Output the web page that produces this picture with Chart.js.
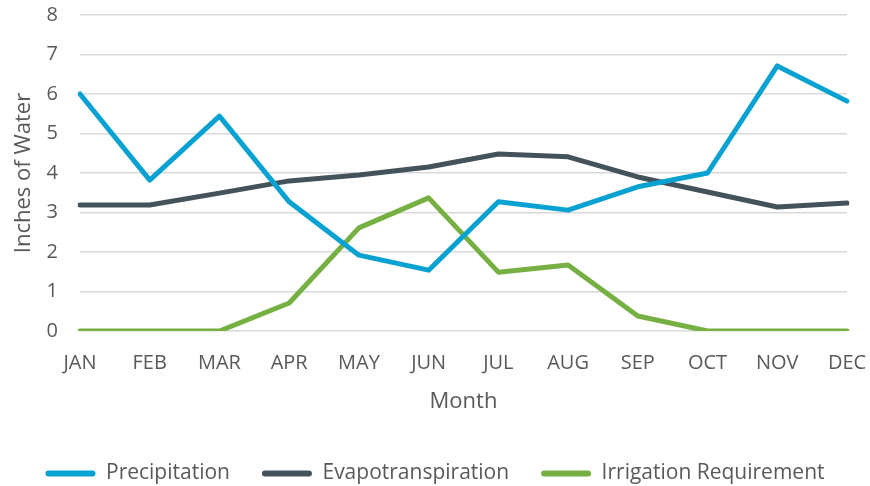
<!DOCTYPE html>
<html>
<head>
<meta charset="utf-8">
<script src="https://cdn.jsdelivr.net/npm/chart.js@4"></script>
<style>
  html, body { margin: 0; padding: 0; background: #fff; }
  #wrap { width: 870px; height: 486px; }
</style>
</head>
<body>
<div id="wrap"><canvas id="waterChart"></canvas></div>
<script>
const months = ['JAN', 'FEB', 'MAR', 'APR', 'MAY', 'JUN', 'JUL', 'AUG', 'SEP', 'OCT', 'NOV', 'DEC'];
const precipitation = [6.0, 3.82, 5.44, 3.27, 1.92, 1.54, 3.27, 3.06, 3.65, 4.0, 6.71, 5.82];
const evapotranspiration = [3.19, 3.19, 3.49, 3.80, 3.95, 4.15, 4.48, 4.41, 3.90, 3.52, 3.14, 3.24];
const irrigation = [0, 0, 0, 0.71, 2.61, 3.37, 1.49, 1.67, 0.38, 0, 0, 0];
const yTicks = [0, 1, 2, 3, 4, 5, 6, 7, 8];

const textColor = '#595959';
const font = 'Open Sans';

function series(label, data, color) {
  return {
    label: label,
    data: data,
    borderColor: color,
    backgroundColor: color,
    borderWidth: 5,
    pointRadius: 0,
    tension: 0,
    borderJoinStyle: 'round',
    borderCapStyle: 'round'
  };
}

const ctx = document.getElementById('waterChart').getContext('2d');
new Chart(ctx, {
  type: 'line',
  data: {
    labels: months,
    datasets: [
      series('Precipitation', precipitation, '#08a2d2'),
      series('Evapotranspiration', evapotranspiration, '#44525c'),
      series('Irrigation Requirement', irrigation, '#76b042')
    ]
  },
  options: {
    responsive: true,
    maintainAspectRatio: false,
    animation: false,
    layout: { padding: { top: 15, right: 0, bottom: -8, left: 0 } },
    plugins: {
      legend: {
        position: 'bottom',
        labels: {
          color: textColor,
          font: { family: font, size: 21 },
          boxWidth: 50,
          boxHeight: 6,
          useBorderRadius: true,
          borderRadius: 3,
          padding: 32,
          generateLabels: chart => Chart.defaults.plugins.legend.labels.generateLabels(chart)
            .map(item => Object.assign(item, { lineWidth: 0 }))
        }
      },
      tooltip: { enabled: false }
    },
    scales: {
      x: {
        offset: false,
        // keep the plot edges where the reference has them (right edge at 847)
        afterFit: s => { s.height = 100; s.paddingLeft = 0; s.paddingRight = 23; },
        grid: { display: false, drawTicks: false },
        border: { display: false },
        ticks: { color: textColor, font: { family: font, size: 20 }, padding: 20, maxRotation: 0, autoSkip: false },
        title: { display: true, text: 'Month', color: textColor, font: { family: font, size: 22 }, padding: { top: 0, bottom: 16 } }
      },
      y: {
        min: 0,
        max: 8,
        afterFit: s => { s.width = 80; s.paddingTop = 0; s.paddingBottom = 0; },
        afterBuildTicks: s => { s.ticks = yTicks.map(v => ({ value: v })); },
        grid: { color: '#d9d9d9', lineWidth: 1.5, drawTicks: false },
        border: { display: false },
        ticks: { color: textColor, font: { family: font, size: 20 }, padding: 22 },
        title: { display: true, text: 'Inches of Water', color: textColor, font: { family: font, size: 22 }, padding: { top: 11, bottom: 0 } }
      }
    }
  }
});
</script>
</body>
</html>
